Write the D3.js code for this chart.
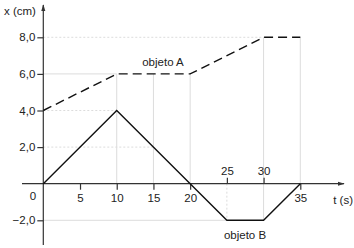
<!DOCTYPE html>
<html><head><meta charset="utf-8">
<script src="https://cdn.jsdelivr.net/npm/d3@7"></script>
<style>body{margin:0;background:#fff}svg{display:block}</style>
</head><body><svg id="c" width="354" height="248"></svg>
<script>
const timesA = [0, 10, 20, 30, 35];
const posA = [4, 6, 6, 8, 8];
const timesB = [0, 10, 20, 25, 30, 35];
const posB = [0, 4, 0, -2, -2, 0];
const xTicksBelow = [5, 10, 15, 20, 35];
const xTicksAbove = [25, 30];
const yTicks = [-2, 2, 4, 6, 8];

const svg = d3.select("#c");
const x = d3.scaleLinear().domain([0, 35]).range([43.3, 300.3]);
const y = d3.scaleLinear().domain([0, 8]).range([183.7, 37.3]);
const font = "Liberation Sans, Arial, sans-serif";
const grid = "#dcdcdc";

// guide lines
const hGuides = [[8, 30, "2,2"], [6, 10, null], [4, 10, "2,2"], [2, 15, "2,2"], [-2, 25, null]];
hGuides.forEach(([v, xe, d]) => {
  svg.append("line").attr("x1", x(0)).attr("x2", x(xe)).attr("y1", y(v)).attr("y2", y(v))
    .attr("stroke", grid).attr("stroke-width", 1).attr("stroke-dasharray", d);
});
const vGuides = [[10, 6, 0, null], [15, 6, 0, null], [20, 6, 0, null], [25, 0, -2, "2,2"], [30, 8, -2, null], [35, 8, 0, null]];
vGuides.forEach(([t, y1, y2, d]) => {
  svg.append("line").attr("x1", x(t)).attr("x2", x(t)).attr("y1", y(y1)).attr("y2", y(y2))
    .attr("stroke", grid).attr("stroke-width", 1).attr("stroke-dasharray", d);
});

// axes lines with arrows
svg.append("defs").append("marker").attr("id", "arr").attr("viewBox", "0 0 10 10")
  .attr("refX", 9).attr("refY", 5).attr("markerWidth", 6).attr("markerHeight", 6).attr("orient", "auto")
  .append("path").attr("d", "M0,2 L10,5 L0,8 Z").attr("fill", "#333");
svg.append("line").attr("x1", x(0)).attr("x2", x(0)).attr("y1", 245).attr("y2", 5)
  .attr("stroke", "#333").attr("stroke-width", 1.2).attr("marker-end", "url(#arr)");
svg.append("line").attr("x1", 22).attr("x2", 344).attr("y1", y(0)).attr("y2", y(0))
  .attr("stroke", "#333").attr("stroke-width", 1.2).attr("marker-end", "url(#arr)");

function styleAxis(g) {
  g.select(".domain").remove();
  g.selectAll("line").attr("stroke", "#333").attr("stroke-width", 1.2);
  g.selectAll("text").attr("font-family", font).attr("font-size", 11.5).attr("fill", "#222");
}
svg.append("g").attr("transform", `translate(0,${y(0)})`)
  .call(d3.axisBottom(x).tickValues(xTicksBelow).tickSize(6).tickPadding(4).tickFormat(d3.format("d")))
  .call(styleAxis);
svg.append("g").attr("transform", `translate(0,${y(0)})`)
  .call(d3.axisTop(x).tickValues(xTicksAbove).tickSize(6).tickPadding(3).tickFormat(d3.format("d")))
  .call(styleAxis);
svg.append("g").attr("transform", `translate(${x(0)},0)`)
  .call(d3.axisLeft(y).tickValues(yTicks).tickSize(6).tickPadding(2)
    .tickFormat(d => d3.format(".1f")(d).replace(".", ",")))
  .call(styleAxis);

// lines
const line = d3.line().x(d => x(d[0])).y(d => y(d[1]));
svg.append("path").attr("d", line(d3.zip(timesA, posA))).attr("fill", "none")
  .attr("stroke", "#111").attr("stroke-width", 1.4).attr("stroke-dasharray", "9,5");
svg.append("path").attr("d", line(d3.zip(timesB, posB))).attr("fill", "none")
  .attr("stroke", "#111").attr("stroke-width", 1.4);

// texts
const txt = (s, px, py, anchor) => svg.append("text").attr("x", px).attr("y", py)
  .attr("text-anchor", anchor || "middle").attr("font-family", font).attr("font-size", 11.5)
  .attr("fill", "#222").text(s);
txt("x (cm)", 4, 15, "start");
txt("t (s)", 353, 204, "end");
txt("objeto A", 163, 66);
txt("objeto B", 245, 239);
txt("0", 33, 200);
</script></body></html>
